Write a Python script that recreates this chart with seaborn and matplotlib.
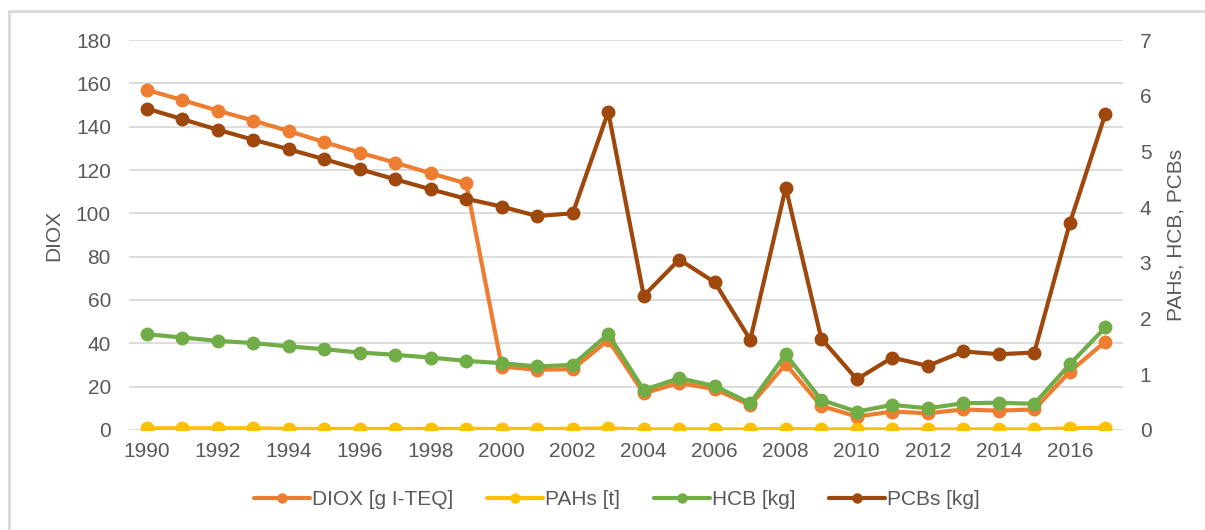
import matplotlib.pyplot as plt
import pandas as pd
import seaborn as sns
from matplotlib.lines import Line2D
from matplotlib.patches import Rectangle

# ---------------------------------------------------------------------------
# DATA
# ---------------------------------------------------------------------------
years = list(range(1990, 2018))

# left axis
diox = [157.0, 152.3, 147.4, 142.8, 138.0, 132.9, 128.0, 123.4, 118.5, 113.8,
        29.3, 27.8, 28.1, 41.5, 16.9, 21.8, 18.8, 11.5, 30.3, 11.1,
        6.2, 8.5, 7.7, 9.5, 8.9, 9.5, 26.9, 40.8]

# right axis
pahs = [0.03, 0.03, 0.03, 0.03, 0.02, 0.02, 0.02, 0.02, 0.02, 0.02,
        0.02, 0.02, 0.02, 0.03, 0.01, 0.01, 0.01, 0.01, 0.02, 0.01,
        0.01, 0.01, 0.01, 0.01, 0.01, 0.01, 0.03, 0.04]
hcb = [1.72, 1.66, 1.60, 1.56, 1.50, 1.45, 1.39, 1.35, 1.30, 1.24,
       1.20, 1.14, 1.17, 1.72, 0.72, 0.93, 0.79, 0.48, 1.36, 0.54,
       0.33, 0.45, 0.39, 0.48, 0.49, 0.47, 1.18, 1.84]
pcbs = [5.77, 5.58, 5.39, 5.21, 5.04, 4.86, 4.68, 4.50, 4.32, 4.15,
        4.01, 3.84, 3.89, 5.71, 2.41, 3.06, 2.65, 1.62, 4.35, 1.64,
        0.91, 1.30, 1.15, 1.41, 1.36, 1.39, 3.71, 5.67]

series_labels = ["DIOX [g I-TEQ]", "PAHs [t]", "HCB [kg]", "PCBs [kg]"]
colors = {
    "DIOX [g I-TEQ]": "#ED7D31",
    "PAHs [t]": "#FFC000",
    "HCB [kg]": "#70AD47",
    "PCBs [kg]": "#9E480E",
}

x_ticks = list(range(1990, 2017, 2))
left_ticks = list(range(0, 181, 20))
right_ticks = list(range(0, 8))

TEXT_GREY = "#595959"
GRID_GREY = "#D9D9D9"

# ---------------------------------------------------------------------------
# STYLE
# ---------------------------------------------------------------------------
sns.set_style("white")
plt.rcParams["font.family"] = ["Liberation Sans", "DejaVu Sans"]

line_kw = dict(marker="o", markersize=10, markeredgewidth=0, linewidth=3)

fig = plt.figure(figsize=(12.05, 5.30), dpi=100)
ax = fig.add_axes([0.107, 0.1887, 0.825, 0.7358])
ax2 = ax.twinx()

# left axis: DIOX
sns.lineplot(x=years, y=diox, ax=ax, color=colors["DIOX [g I-TEQ]"],
             legend=False, **line_kw)

# right axis: PAHs, HCB, PCBs
right_df = pd.DataFrame({
    "year": years * 3,
    "value": pahs + hcb + pcbs,
    "series": ["PAHs [t]"] * len(years) + ["HCB [kg]"] * len(years)
    + ["PCBs [kg]"] * len(years),
})
sns.lineplot(data=right_df, x="year", y="value", hue="series",
             hue_order=["PAHs [t]", "HCB [kg]", "PCBs [kg]"],
             palette=colors, ax=ax2, legend=False, **line_kw)

# axes limits / ticks
ax.set_xlim(1989.5, 2017.5)
ax.set_ylim(0, 180)
ax2.set_ylim(0, 7)
ax.set_xticks(x_ticks)
ax.set_yticks(left_ticks)
ax2.set_yticks(right_ticks)

ax.grid(axis="y", color=GRID_GREY, linewidth=1.3)
ax.grid(axis="x", visible=False)
ax2.grid(False)
ax.set_axisbelow(True)

for a in (ax, ax2):
    for s in a.spines.values():
        s.set_visible(False)
    a.tick_params(length=0, labelsize=15, labelcolor=TEXT_GREY)
ax.tick_params(axis="y", pad=13)
ax.tick_params(axis="x", pad=9)
ax2.tick_params(axis="y", pad=12)

ax.set_xlabel("")
ax.set_ylabel("DIOX", fontsize=15, color=TEXT_GREY)
ax2.set_ylabel("PAHs, HCB, PCBs", fontsize=15, color=TEXT_GREY)
ax.yaxis.set_label_coords(-0.066, 0.5)
ax2.yaxis.set_label_coords(1.044, 0.5)
ax2.set_xlabel("")

# legend below the chart
handles = [
    Line2D([0], [0], color=colors[name], marker="o", markersize=7.5,
           markeredgewidth=0, linewidth=3)
    for name in series_labels
]
fig.legend(handles, series_labels, loc="center", ncol=4,
           bbox_to_anchor=(0.512, 0.057), frameon=False, fontsize=15,
           handlelength=2.7, handletextpad=0.1, columnspacing=1.6,
           labelcolor=TEXT_GREY)

# chart border (only the top-left corner is visible in the crop)
fig.patches.append(Rectangle((0.0075, -0.05), 1.1, 1.03,
                             transform=fig.transFigure, fill=False,
                             edgecolor=GRID_GREY, linewidth=2))

fig.savefig("out.png", dpi=100)
